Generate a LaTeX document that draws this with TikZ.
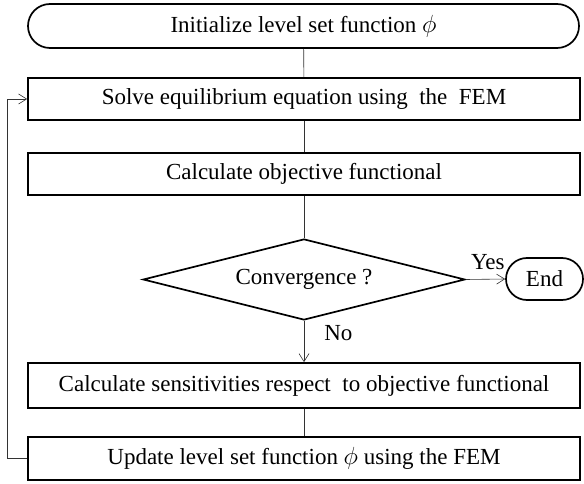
\documentclass[tikz,border=0pt]{standalone}
\usepackage{fontspec}
\setmainfont{Liberation Serif}
\usetikzlibrary{shapes.geometric,shapes.misc,arrows.meta}
\begin{document}
\begin{tikzpicture}[x=1bp,y=-1bp,
  every node/.style={font=\fontsize{23bp}{26bp}\selectfont},
  procbox/.style={draw, line width=1.7bp, rectangle, minimum width=552bp, inner sep=0pt},
  termbox/.style={draw, line width=1.7bp, rounded rectangle, inner sep=0pt},
  decbox/.style={draw, line width=1.7bp, diamond, aspect=4, inner sep=0pt, minimum width=322bp, minimum height=81bp},
  conn/.style={line width=0.6bp, draw=black!80},
  arr/.style={conn, -{Straight Barb[length=8bp,width=10bp,line width=0.6bp]}},
  lbl/.style={inner sep=0pt, text=black}
]
\useasboundingbox (0,0) rectangle (584,484);
\node[termbox, minimum width=551bp, minimum height=44bp] (init) at (303.5,26) {Initialize level set function $\phi$};
\node[procbox, minimum height=42bp] (solve) at (304,99) {Solve equilibrium equation using\ \ the\ \ FEM};
\node[procbox, minimum height=42bp] (obj) at (304,174) {Calculate objective functional};
\node[decbox] (conv) at (304,279.5) {Convergence ?};
\node[termbox, minimum width=77bp, minimum height=42bp] (end) at (544.5,279) {End};
\node[procbox, minimum height=45bp] (sens) at (304,385.5) {Calculate sensitivities respect\ \ to objective functional};
\node[procbox, minimum height=43bp] (upd) at (304,458.5) {Update level set function $\phi$ using the FEM};
\coordinate (loop) at (7,458.5);

\draw[conn] (init) -- (solve);
\draw[conn] (solve) -- (obj);
\draw[conn] (obj) -- (conv);
\draw[arr] (conv.east) -- (end.west) node[lbl, pos=0.56, above=9bp] {Yes};
\draw[arr] (conv.south) -- (sens.north) node[lbl, pos=0.3, right=20bp] {No};
\draw[conn] (sens) -- (upd);
\draw[arr] (upd.west) -- (loop) |- (solve.west);
\end{tikzpicture}
\end{document}
